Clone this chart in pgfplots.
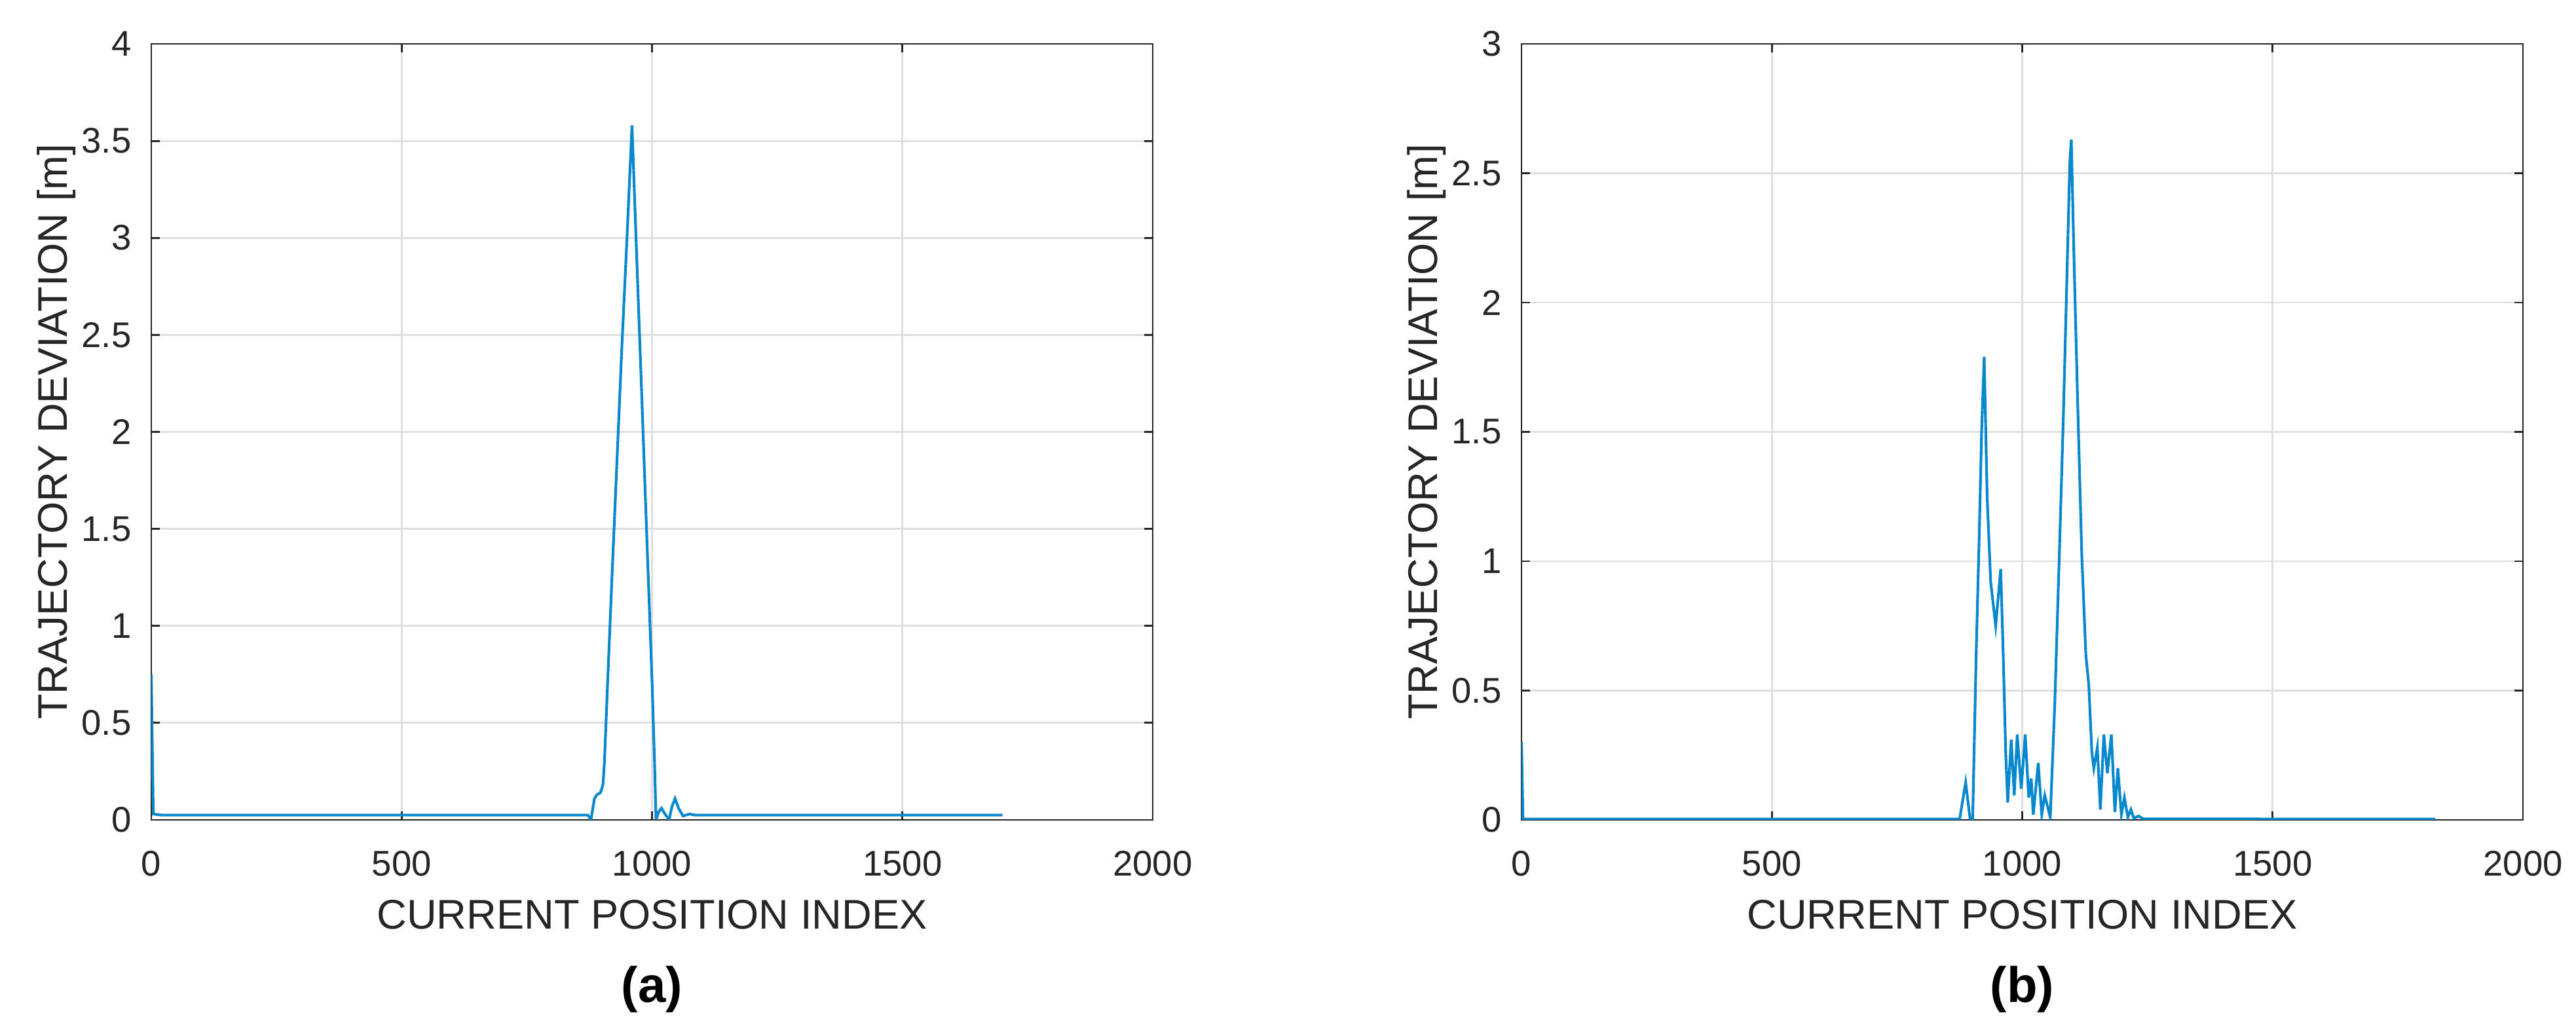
\documentclass[border=0pt]{standalone}
\usepackage{fontspec}
\setmainfont{Liberation Sans}
\usepackage{pgfplots}
\pgfplotsset{compat=1.18}

\definecolor{mlblue}{RGB}{10,136,206}
\definecolor{axgray}{RGB}{38,38,38}
\definecolor{gridgray}{RGB}{223,223,223}

\pgfplotsset{
  devplot/.style={
    scale only axis, width=9.174cm, height=7.11cm,
    xmin=0, xmax=2000, xtick={0,500,...,2000},
    tick align=inside, major tick length=0.08cm,
    grid=major, grid style={gridgray, line width=0.5pt},
    axis line style={axgray, line width=0.5pt},
    tick style={axgray, line width=0.5pt},
    ticklabel style={font=\fontsize{9.3}{11}\selectfont, text=axgray},
    /pgf/number format/assume math mode=true,
    /pgf/number format/1000 sep={},
    xticklabel style={yshift=-0.16cm},
    yticklabel style={xshift=-0.06cm},
    xlabel={CURRENT POSITION INDEX},
    ylabel={TRAJECTORY DEVIATION [m]},
    label style={font=\fontsize{10.8}{13}\selectfont, text=axgray},
    xlabel style={at={(axis description cs:0.5,-0.1224)}, anchor=center},
    ylabel style={at={(axis description cs:-0.0948,0.5)}, anchor=center},
  }
}

\begin{document}
\begin{tikzpicture}
  \path[use as bounding box] (-1.386,-1.98) rectangle (22.212,7.512);

  % (a)
  \begin{axis}[devplot, name=A, at={(0,0)}, anchor=south west,
      ymin=0, ymax=4, ytick={0,0.5,...,4}]
    \addplot[mlblue, line width=0.7pt] coordinates {
      (0,0.75) (4,0.03) (20,0.025) (872,0.025) (878,0.0) (885,0.11)
      (890,0.13) (897,0.14) (902,0.18) (905,0.3) (912,0.75) (920,1.25)
      (930,1.85) (940,2.45) (950,3.0) (960,3.58) (970,2.86) (980,2.15)
      (990,1.43) (1000,0.72) (1005,0.3) (1008,0.0) (1013,0.04) (1019,0.06)
      (1026,0.03) (1034,0.0) (1040,0.07) (1046,0.11) (1053,0.06) (1062,0.02)
      (1068,0.025) (1075,0.03) (1085,0.025) (1700,0.025)
    };
  \end{axis}
  \node[font=\fontsize{13}{15}\selectfont\bfseries, anchor=center]
    at ([yshift=-1.554cm]A.south) {(a)};

  % (b)
  \begin{axis}[devplot, name=B, at={(12.552cm,0)}, anchor=south west,
      ymin=0, ymax=3, ytick={0,0.5,...,3}]
    \addplot[mlblue, line width=0.7pt] coordinates {
      (0,0.30) (3,0.003) (875,0.003) (887,0.145) (896,0.0) (901,0.0)
      (908,0.64) (914,1.09) (919,1.51) (924,1.79) (930,1.245) (937,0.92)
      (947,0.75) (957,0.97) (962,0.64) (967,0.26) (971,0.067) (978,0.31)
      (984,0.095) (990,0.33) (998,0.12) (1006,0.33) (1013,0.086) (1018,0.16)
      (1022,0.02) (1032,0.22) (1039,0.02) (1045,0.095) (1056,0.01)
      (1065,0.45) (1074,1.02) (1082,1.55) (1089,2.08) (1095,2.54) (1098,2.63)
      (1104,2.12) (1111,1.59) (1119,1.02) (1127,0.64) (1133,0.52) (1139,0.26)
      (1143,0.20) (1150,0.28) (1156,0.04) (1163,0.33) (1170,0.18) (1178,0.33)
      (1185,0.03) (1191,0.20) (1198,0.02) (1204,0.086) (1211,0.01) (1217,0.04)
      (1223,0.005) (1232,0.015) (1242,0.004) (1825,0.003)
    };
  \end{axis}
  \node[font=\fontsize{13}{15}\selectfont\bfseries, anchor=center]
    at ([yshift=-1.554cm]B.south) {(b)};
\end{tikzpicture}
\end{document}
